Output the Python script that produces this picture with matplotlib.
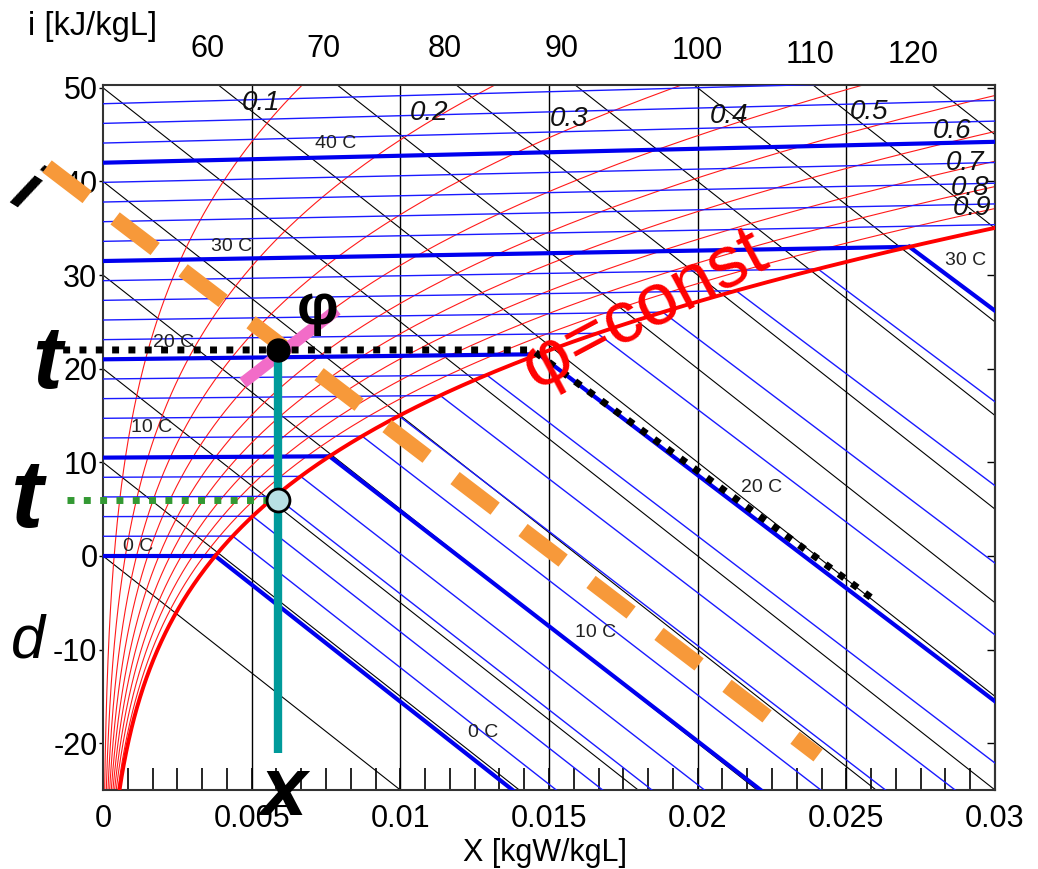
import numpy as np
import matplotlib
matplotlib.use("Agg")
import matplotlib.pyplot as plt

plt.rcParams['font.family'] = ['Liberation Sans', 'DejaVu Sans']

# ---------------- chart data ----------------
ISOTHERMS_C = [0, 2, 4, 6, 8, 10, 12, 14, 16, 18, 20, 22, 24, 26, 28, 30,
               32, 34, 36, 38, 40, 42, 44, 46]
ISOTHERMS_BOLD_C = [0, 10, 20, 30, 40]
PHI_LEVELS = [0.1, 0.2, 0.3, 0.4, 0.5, 0.6, 0.7, 0.8, 0.9]
PHI_LABELS = ['0.1', '0.2', '0.3', '0.4', '0.5', '0.6', '0.7', '0.8', '0.9']
ENTHALPY_LINES = [0, 10, 20, 30, 40, 50, 60, 70, 80, 90, 100, 110, 120]
ENTHALPY_TOP_LABELS = ['60', '70', '80', '90', '100', '110', '120']
X_TICKS = [0, 0.005, 0.01, 0.015, 0.02, 0.025, 0.03]
X_TICK_LABELS = ['0', '0.005', '0.01', '0.015', '0.02', '0.025', '0.03']
Y_TICKS = [-20, -10, 0, 10, 20, 30, 40, 50]
GRID_X = [0.005, 0.01, 0.015, 0.02, 0.025]
DRY_T_LABELS = ['40 C', '30 C', '20 C', '10 C', '0 C']
FOG_T_LABELS = ['30 C', '20 C', '10 C', '0 C']

# example state drawn on top
STATE_X = 0.0059
STATE_I = 22.0
DEW_I = 6.0
DRY_PATH_X = [-0.00134, 0.01443, 0.02607]
DRY_PATH_I = [22.0, 22.0, -5.0]
ENTH_ANN_X = [-0.00188, 0.02405]
ENTH_ANN_I = [41.6, -21.3]
PHI_ANN_X = [0.00471, 0.00787]
PHI_ANN_I = [18.5, 26.3]
X_ANN_BOTTOM_I = -21.0
DEW_LINE_X0 = -0.00121

# ---------------- psychrometric relations ----------------
P_ATM = 101325.0
T_SCALE = 1.05          # vertical chart units per degC at X = 0


def p_sat(t):
    return 611.2 * np.exp(17.62 * t / (243.12 + t))


def x_at(t, phi):
    pv = phi * p_sat(t)
    return 0.622 * pv / (P_ATM - pv)


def chart_i(t, x):
    return T_SCALE * t + 1.86 * t * x


# ---------------- figure ----------------
fig = plt.figure(figsize=(10.38, 8.69), dpi=100)
ax = fig.add_axes([103 / 1038, 79 / 869, 892 / 1038, 705 / 869])
XMAX = 0.03
ax.set_xlim(0, XMAX)
ax.set_ylim(-25, 50.3)

xs_full = np.linspace(0, XMAX, 400)

# vertical grid lines
for gx in GRID_X:
    ax.axvline(gx, color='black', lw=1.0, zorder=1)

# enthalpy lines (black)
for h in ENTHALPY_LINES:
    ax.plot(xs_full, h - 2500 * xs_full, color='black', lw=0.8, zorder=2)

# relative humidity lines (red)
t_rng = np.linspace(-30, 70, 800)
for phi in PHI_LEVELS:
    ax.plot(x_at(t_rng, phi), chart_i(t_rng, x_at(t_rng, phi)),
            color='#ff1a1a', lw=0.8, zorder=2.2)

# isotherms (blue)
for t in ISOTHERMS_C:
    bold = t in ISOTHERMS_BOLD_C
    lw = 3.0 if bold else 1.0
    col = '#0000ee' if bold else '#1a1aff'
    xs_sat = x_at(t, 1.0)
    if xs_sat >= XMAX:
        ax.plot([0, XMAX], [chart_i(t, 0), chart_i(t, XMAX)], color=col, lw=lw, zorder=3)
    else:
        ax.plot([0, xs_sat], [chart_i(t, 0), chart_i(t, xs_sat)], color=col, lw=lw, zorder=3)
        xf = np.linspace(xs_sat, XMAX, 100)
        yf = chart_i(t, xs_sat) + (4.19 * t - 2500) * (xf - xs_sat)
        ax.plot(xf, yf, color=col, lw=lw, zorder=3)

# saturation line
t_sat = np.linspace(-30, 40, 600)
ax.plot(x_at(t_sat, 1.0), chart_i(t_sat, x_at(t_sat, 1.0)), color='#ff0000', lw=2.8, zorder=3.5)

# phi labels
phi_pos = [(0.00531, 48.4), (0.01097, 47.3), (0.01567, 46.7), (0.02105, 47.0),
           (0.02576, 47.4), (0.02855, 45.4), (0.02899, 42.0), (0.02916, 39.3),
           (0.02923, 37.2)]
for lab, (px, py) in zip(PHI_LABELS, phi_pos):
    ax.text(px, py, lab, fontsize=20, style='italic', ha='center', va='center',
            color='#111111', zorder=4)

# temperature labels
dry_pos = [(0.00784, 44.0), (0.00433, 33.1), (0.00236, 22.8), (0.00165, 13.7), (0.00117, 0.96)]
for lab, (px, py) in zip(DRY_T_LABELS, dry_pos):
    ax.text(px, py, lab, fontsize=14, ha='center', va='center', color='#222222', zorder=4)
fog_pos = [(0.0290, 31.6), (0.02216, 7.3), (0.01655, -8.2), (0.01278, -18.9)]
for lab, (px, py) in zip(FOG_T_LABELS, fog_pos):
    ax.text(px, py, lab, fontsize=14, ha='center', va='center', color='#222222', zorder=4)

# top enthalpy labels
top_pos = [(0.00353, 54.1), (0.00740, 54.1), (0.01150, 54.1), (0.01544, 54.1),
           (0.01998, 53.9), (0.02378, 53.5), (0.02725, 53.5)]
for lab, (px, py) in zip(ENTHALPY_TOP_LABELS, top_pos):
    ax.text(px, py, lab, fontsize=22, ha='center', va='center', color='black', clip_on=False)

# axes styling
ax.set_xticks(X_TICKS)
ax.set_xticklabels(X_TICK_LABELS, fontsize=22)
ax.set_xticks(np.arange(0, XMAX + 1e-9, 0.005 / 6), minor=True)
ax.tick_params(axis='x', which='both', direction='in', length=16, width=1.2, pad=10, top=False)
ax.set_yticks(Y_TICKS)
ax.set_yticklabels([str(v) for v in Y_TICKS], fontsize=22)
ax.tick_params(axis='y', which='major', direction='out', length=3, width=1, pad=1)
sec = ax.secondary_yaxis('right')
sec.set_yticks(Y_TICKS)
sec.tick_params(direction='in', length=6, width=1, labelright=False)
for sp in list(ax.spines.values()) + list(sec.spines.values()):
    sp.set_color('#333333')
    sp.set_linewidth(1.5)

fig.text(28 / 1038, 1 - 27 / 869, 'i [kJ/kgL]', fontsize=23.5, ha='left', va='center')
fig.text(545 / 1038, 1 - 853 / 869, 'X [kgW/kgL]', fontsize=22, ha='center', va='center')

# ---------------- annotations ----------------
ax.plot(ENTH_ANN_X, ENTH_ANN_I, color='#f7993a', lw=11, dashes=(3.3, 2.3),
        dash_capstyle='butt', solid_capstyle='butt', clip_on=False, zorder=5)
ax.plot(PHI_ANN_X, PHI_ANN_I, color='#f26cc8', lw=8.5, solid_capstyle='butt', zorder=6)
ax.plot([STATE_X, STATE_X], [STATE_I, X_ANN_BOTTOM_I], color='#009a9a', lw=6,
        solid_capstyle='butt', zorder=6)
ax.plot(DRY_PATH_X, DRY_PATH_I, color='black', lw=5, dashes=(1, 1.35),
        dash_capstyle='butt', clip_on=False, zorder=7)
ax.plot([DEW_LINE_X0, STATE_X], [DEW_I, DEW_I], color='#339933', lw=5, dashes=(1, 1.35),
        dash_capstyle='butt', clip_on=False, zorder=7)
ax.plot([STATE_X], [STATE_I], 'o', ms=16.5, color='black', zorder=8)
ax.plot([STATE_X], [DEW_I], 'o', ms=16.5, mfc='#b8e0e4', mec='black', mew=2, zorder=8)

ax.text(0.00723, 26.4, 'φ', fontsize=42, weight='bold', ha='center', va='center',
        color='black', zorder=9)
ax.text(0.0182, 26.3, 'φ=const', fontsize=53, color='red', rotation=28,
        ha='center', va='center', zorder=9, rotation_mode='anchor')
ax.text(-0.00188, 20.4, 't', fontsize=64, style='italic', weight='bold', ha='center',
        va='center', clip_on=False, zorder=9)
ax.text(-0.00256, 5.8, 't', fontsize=70, style='italic', weight='bold', ha='center',
        va='center', clip_on=False, zorder=9)
ax.text(-0.00252, -9.2, 'd', fontsize=44, style='italic', ha='center',
        va='center', clip_on=False, zorder=9)
ax.text(0.00609, -25.3, 'x', fontsize=60, style='italic', weight='bold', ha='center',
        va='center', clip_on=False, zorder=9)
ax.text(-0.00262, 38.9, 'i', fontsize=50, style='italic', weight='bold', rotation=-32,
        ha='center', va='center', clip_on=False, zorder=4.5)

fig.savefig('out.png', dpi=100)
